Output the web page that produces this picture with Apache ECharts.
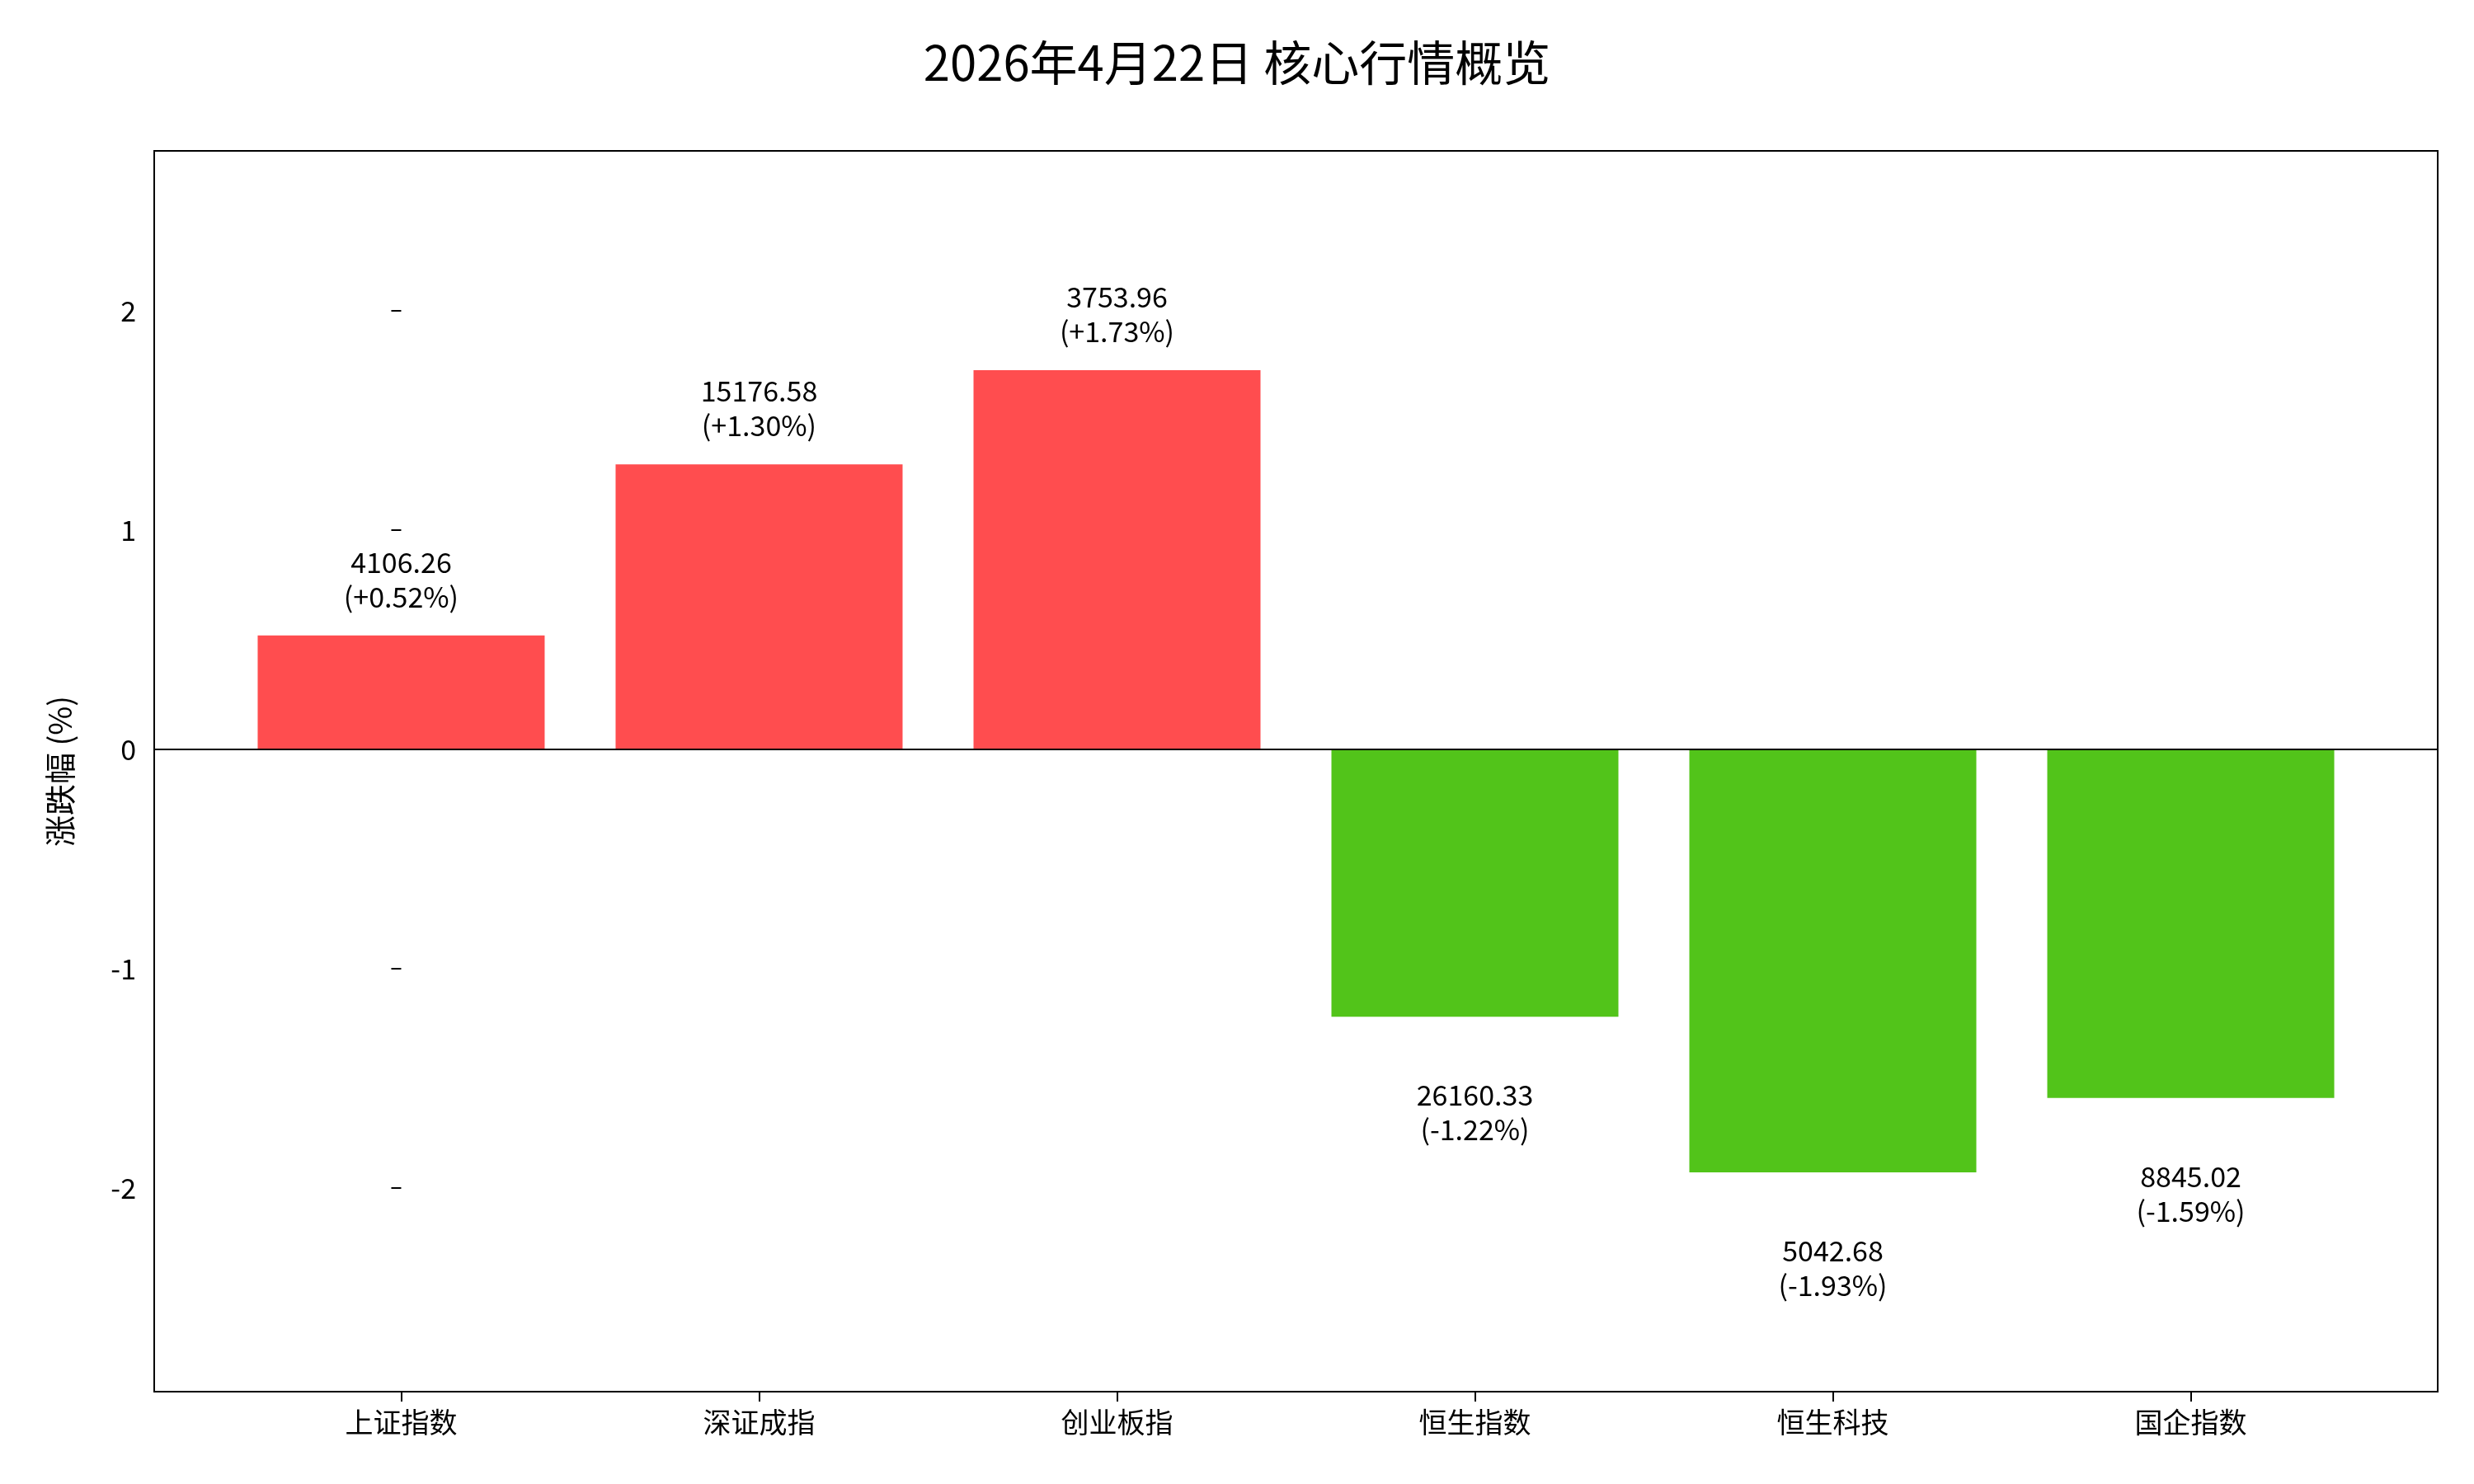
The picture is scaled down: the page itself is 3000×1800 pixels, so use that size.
<!DOCTYPE html>
<html>
<head>
<meta charset="utf-8">
<script src="https://cdn.jsdelivr.net/npm/echarts@6/dist/echarts.min.js"></script>
<style>
  html, body { margin: 0; padding: 0; background: #fff; }
  #chart { width: 3000px; height: 1800px; }
</style>
</head>
<body>
<div id="chart"></div>
<script>
const categories = ['上证指数', '深证成指', '创业板指', '恒生指数', '恒生科技', '国企指数'];
const changes = [0.52, 1.30, 1.73, -1.22, -1.93, -1.59];
const closes = ['4106.26', '15176.58', '3753.96', '26160.33', '5042.68', '8845.02'];
const yTicks = [-2, -1, 0, 1, 2];
const xTicks = [0, 1, 2, 3, 4, 5];

const FONT = '"Noto Sans CJK SC", "DejaVu Sans", sans-serif';
const chart = echarts.init(document.getElementById('chart'));

const data = changes.map((v, i) => ({
  value: [i, v],
  itemStyle: { color: v >= 0 ? '#ff4d4f' : '#52c41a' },
  label: {
    position: v >= 0 ? 'top' : 'bottom',
    distance: v >= 0 ? 26 : 74
  }
}));

chart.setOption({
  animation: false,
  title: {
    text: '2026年4月22日 核心行情概览',
    left: 'center',
    top: 42,
    textStyle: { fontFamily: FONT, fontSize: 58, fontWeight: 'normal', color: '#000' }
  },
  grid: {
    left: 187, right: 44, top: 183, bottom: 112,
    show: true, borderColor: '#000', borderWidth: 2, backgroundColor: 'transparent'
  },
  xAxis: {
    type: 'value',
    min: -0.69,
    max: 5.69,
    splitLine: { show: false },
    axisLine: { show: false, onZero: false },
    axisTick: { show: true, customValues: xTicks, length: 12, lineStyle: { color: '#000', width: 2 } },
    axisLabel: {
      customValues: xTicks, fontFamily: FONT, fontSize: 34, color: '#000', margin: 20,
      formatter: v => categories[Math.round(v)]
    }
  },
  yAxis: {
    type: 'value',
    min: -2.93,
    max: 2.73,
    name: '涨跌幅 (%)',
    nameLocation: 'middle',
    nameGap: 95,
    nameTextStyle: { fontFamily: FONT, fontSize: 38, color: '#000' },
    splitLine: { show: false },
    axisLine: { show: false },
    axisTick: { show: true, customValues: yTicks, length: 12, lineStyle: { color: '#000', width: 2 } },
    axisLabel: {
      customValues: yTicks, fontFamily: FONT, fontSize: 34, color: '#000', margin: 22
    }
  },
  series: [{
    type: 'bar',
    data: data,
    barWidth: 348,
    label: {
      show: true,
      fontFamily: FONT,
      fontSize: 34,
      color: '#000',
      lineHeight: 42,
      align: 'center',
      formatter: p => {
        const v = p.value[1];
        return closes[p.dataIndex] + '\n(' + (v >= 0 ? '+' : '') + v.toFixed(2) + '%)';
      }
    },
    markLine: {
      silent: true,
      symbol: 'none',
      label: { show: false },
      lineStyle: { color: '#000', width: 2, type: 'solid' },
      data: [{ yAxis: 0 }]
    }
  }]
});
</script>
</body>
</html>
